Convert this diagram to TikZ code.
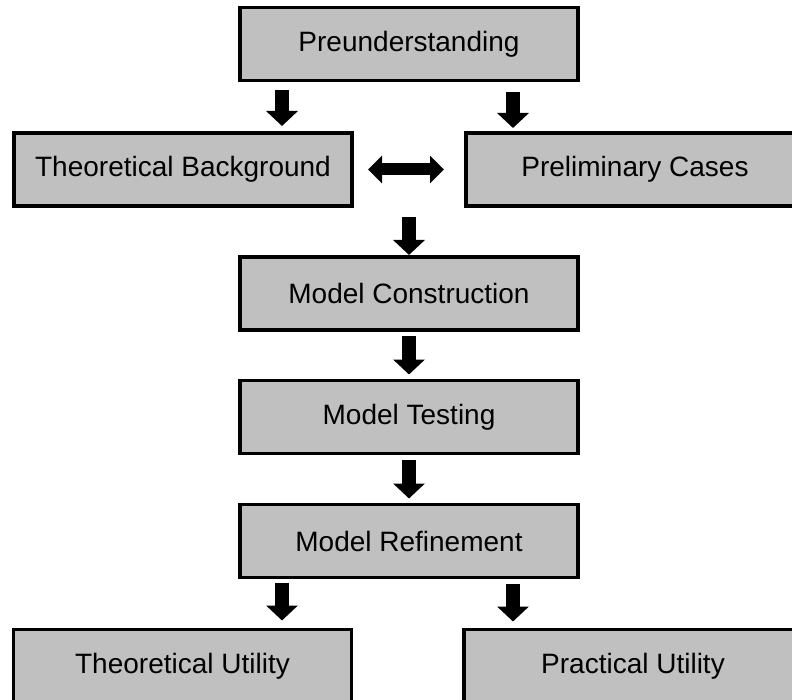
\documentclass[tikz,border=0pt]{standalone}
\usepackage{fontspec}
\setmainfont{Liberation Sans}
\usetikzlibrary{arrows.meta}
\definecolor{boxgray}{HTML}{C0C0C0}
\tikzset{
  box/.style={draw=black, line width=3.5pt, fill=boxgray, minimum width=338pt, minimum height=73pt,
    inner sep=0pt, outer sep=0pt, font=\fontsize{28pt}{33pt}\selectfont},
  blk/.style={line width=14pt, -{Triangle[width=31pt,length=15pt]}},
  dblk/.style={line width=12pt, {Triangle[width=27pt,length=14pt]}-{Triangle[width=27pt,length=14pt]}}
}
\begin{document}
\begin{tikzpicture}[x=1pt,y=-1pt]
\useasboundingbox (0,0) rectangle (792,700);
\clip (0,0) rectangle (792,700);
\fill[white] (0,0) rectangle (792,700);

\node[box] (pre) at (409,44) {Preunderstanding};
\node[box] (tb)  at (183,169.5) {Theoretical Background};
\node[box] (pc)  at (635,169.5) {Preliminary Cases};
\node[box] (mc)  at (409,293.5) {Model Construction};
\node[box] (mt)  at (409,417) {Model Testing};
\node[box] (mr)  at (409,541) {Model Refinement};
\node[box] (tu)  at (182.5,666) {Theoretical Utility};
\node[box] (pu)  at (633,666) {Practical Utility};

\coordinate (a1) at (282,90);
\coordinate (a2) at (513,92);
\coordinate (a3) at (409,217);
\coordinate (a6) at (282,583);
\coordinate (a7) at (513,584);

\draw[blk] (a1) -- ([yshift=7pt]a1 |- tb.north);
\draw[blk] (a2) -- ([yshift=5pt]a2 |- pc.north);
\draw[dblk] ([xshift=16pt]tb.east) -- ([xshift=-22pt]pc.west);
\draw[blk] (a3) -- ([yshift=2pt]mc.north);
\draw[blk] ([yshift=-6pt]mc.south) -- ([yshift=6pt]mt.north);
\draw[blk] ([yshift=-6pt]mt.south) -- ([yshift=6pt]mr.north);
\draw[blk] (a6) -- ([yshift=9pt]a6 |- tu.north);
\draw[blk] (a7) -- ([yshift=8pt]a7 |- pu.north);
\end{tikzpicture}
\end{document}
